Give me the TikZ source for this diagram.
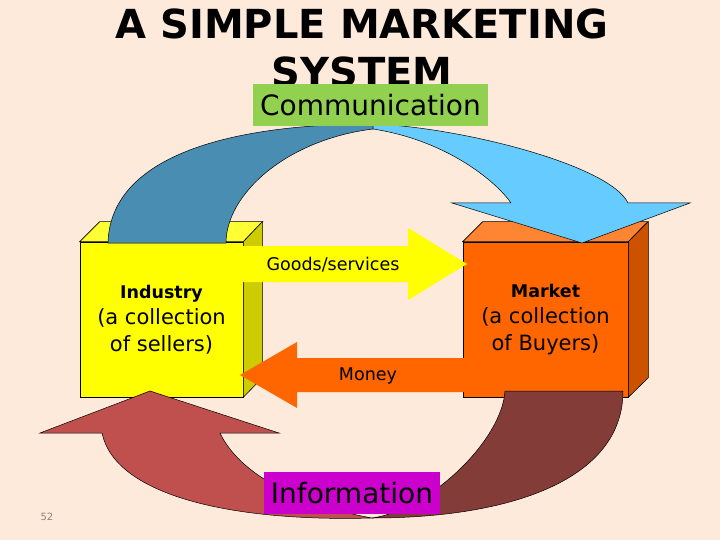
\documentclass[tikz,border=0pt]{standalone}
\usepackage{fontspec}
\setmainfont{DejaVu Sans}
\definecolor{bgpeach}{HTML}{FDEADB}
\definecolor{indfront}{HTML}{FFFF00}
\definecolor{indtop}{HTML}{FFFF33}
\definecolor{indside}{HTML}{CCCC00}
\definecolor{mktfront}{HTML}{FF6600}
\definecolor{mkttop}{HTML}{FF8533}
\definecolor{mktside}{HTML}{CC5200}
\definecolor{commdark}{HTML}{4A8DB2}
\definecolor{commlight}{HTML}{66CCFF}
\definecolor{infodark}{HTML}{843C39}
\definecolor{infolight}{HTML}{C0504D}
\definecolor{commtag}{HTML}{92D050}
\definecolor{infotag}{HTML}{CC00CC}
\definecolor{pagenum}{HTML}{8C8478}
\tikzstyle{frontface}=[draw=black,line width=0.6pt,minimum width=163pt,minimum height=155pt,inner sep=0pt,align=center,font=\fontsize{21}{26.5}\selectfont]
\tikzstyle{face}=[draw=black,line width=0.6pt]
\tikzstyle{band}=[draw=black,line width=0.5pt]
\tikzstyle{tag}=[minimum height=42pt,inner sep=0pt,font=\fontsize{28}{28}\selectfont]
\tikzstyle{flowtext}=[font=\fontsize{17.5}{20}\selectfont]

\begin{document}
\begin{tikzpicture}[x=1pt,y=-1pt]
  \fill[bgpeach] (0,0) rectangle (720,540);
  \useasboundingbox (0,0) rectangle (720,540);
  % title
  \node[font=\fontsize{40}{48}\selectfont\bfseries,anchor=base] (title1) at (362,39) {A SIMPLE MARKETING};
  \node[font=\fontsize{40}{48}\selectfont\bfseries,anchor=base] (title2) at (362,87) {SYSTEM};
  % the two boxes
  \node[frontface,fill=indfront] (industry) at (161.5,319.5)
    {{\fontsize{17.5}{26}\selectfont\bfseries Industry}\\(a collection\\of sellers)};
  \filldraw[face,fill=indtop] (industry.north west) -- ++(20,-20) -- ++(163,0) -- (industry.north east) -- cycle;
  \filldraw[face,fill=indside] (industry.north east) -- ++(19,-20) -- ++(0,156) -- (industry.south east) -- cycle;
  \node[frontface,fill=mktfront,minimum width=165pt] (market) at (545.5,319.5)
    {{\fontsize{17.5}{26}\selectfont\bfseries Market}\\(a collection\\of Buyers)};
  \filldraw[face,fill=mkttop] (market.north west) -- ++(20,-20) -- ++(165,0) -- (market.north east) -- cycle;
  \filldraw[face,fill=mktside] (market.north east) -- ++(20,-20) -- ++(0,156) -- (market.south east) -- cycle;
  % goods and money
  \fill[indfront] (240,246) -- (408,246) -- (408,228) -- (467,264) -- (408,300) -- (408,282) -- (240,282) -- cycle;
  \node[flowtext] (goods) at (333,265) {Goods/services};
  \fill[mktfront] (466,358) -- (297,358) -- (297,342) -- (240,375) -- (297,408) -- (297,392) -- (466,392) -- cycle;
  \node[flowtext] (money) at (368,376) {Money};
  % communication band
  \filldraw[band,fill=commdark] (108,243) .. controls (110,160) and (220,124) .. (373,124) -- (373,129)
    .. controls (285,140) and (226,195) .. (226,243) -- cycle;
  \filldraw[band,fill=commlight] (373,124) .. controls (460,127) and (610,165) .. (628,203) -- (690,203)
    -- (582,243) -- (452,203) -- (511,203) .. controls (495,180) and (445,140) .. (373,129) -- cycle;
  % information band
  \filldraw[band,fill=infodark] (505,391) -- (623,391) .. controls (623,480) and (510,518) .. (372,518)
    .. controls (430,510) and (502,440) .. (505,391) -- cycle;
  \filldraw[band,fill=infolight] (150,391) -- (279,433) -- (220,433) .. controls (240,475) and (300,505) .. (372,518)
    .. controls (230,522) and (115,495) .. (102,433) -- (40,433) -- cycle;
  % tags
  \node[tag,fill=commtag,minimum width=235pt] (comm) at (370.5,105) {Communication};
  \node[tag,fill=infotag,minimum width=176pt] (info) at (352,493) {Information};
  \node[font=\fontsize{10}{10}\selectfont,text=pagenum] (page) at (47,517) {52};
\end{tikzpicture}
\end{document}
